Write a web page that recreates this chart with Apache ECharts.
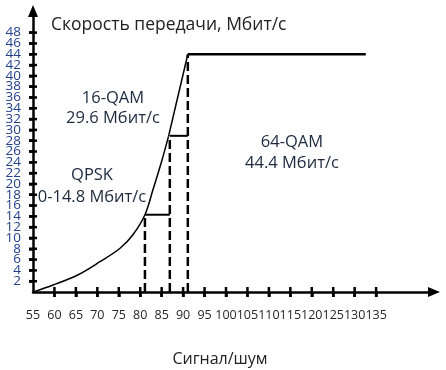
<!DOCTYPE html>
<html>
<head>
<meta charset="utf-8">
<script src="https://cdn.jsdelivr.net/npm/echarts@6/dist/echarts.min.js"></script>
<style>
html,body{margin:0;padding:0;background:#fff;}
#c{width:446px;height:370px;}
</style>
</head>
<body>
<div id="c"></div>
<script>
const xTicks = [55, 60, 65, 70, 75, 80, 85, 90, 95, 100, 105, 110, 115, 120, 125, 130, 135];
const yTicks = [2, 4, 6, 8, 10, 12, 14, 16, 18, 20, 22, 24, 26, 28, 30, 32, 34, 36, 38, 40, 42, 44, 46, 48];

const curveX = [55, 59.7, 65.3, 70.6, 75.3, 78.3, 81.1, 83.0, 85.0, 86.6];
const curveY = [0, 1.3, 3.1, 5.6, 8.1, 10.6, 14.3, 19.0, 24.2, 28.8];
const rampX = [86.6, 91.1];
const rampY = [28.8, 44];
const plateauX = [91.1, 132.6];
const plateauY = [44, 44];
const thresholdX = [81.1, 86.9, 91.1];
const thresholdY = [14.3, 28.9, 44];

const labels = [
  {text: '16-QAM', x: 113, y: 98},
  {text: '29.6 Мбит/с', x: 113, y: 118},
  {text: 'QPSK', x: 92, y: 175},
  {text: '0-14.8 Мбит/с', x: 92, y: 197},
  {text: '64-QAM', x: 292, y: 142},
  {text: '44.4 Мбит/с', x: 292, y: 163}
];

const zip = (xs, ys) => xs.map((v, i) => [v, ys[i]]);

const series = [];
series.push({type: 'line', data: zip(curveX, curveY), smooth: 0.35, showSymbol: false,
  lineStyle: {color: '#000', width: 1.5}});
series.push({type: 'line', data: zip(rampX, rampY), showSymbol: false, lineStyle: {color: '#000', width: 1.5}});
series.push({type: 'line', data: zip(plateauX, plateauY), showSymbol: false, lineStyle: {color: '#000', width: 2.5}});
thresholdX.forEach((tx, i) => {
  series.push({type: 'line', data: [[tx, 0], [tx, thresholdY[i]]], showSymbol: false,
    lineStyle: {color: '#000', width: 2.5, type: [9, 4]}});
  if (i < thresholdX.length - 1) {
    series.push({type: 'line', data: [[tx, thresholdY[i]], [thresholdX[i + 1], thresholdY[i]]], showSymbol: false,
      lineStyle: {color: '#000', width: 2}});
  }
});

const FONT = '"Open Sans", sans-serif';
const chart = echarts.init(document.getElementById('c'), null, {renderer: 'canvas'});
chart.setOption({
  animation: false,
  backgroundColor: '#fff',
  grid: {left: 33, right: 12, top: 11, bottom: 78, containLabel: false},
  xAxis: {
    type: 'value', min: 55, max: 148.5, position: 'bottom',
    splitLine: {show: false},
    axisLine: {show: true, onZero: false, lineStyle: {color: '#000', width: 2.5}, symbol: ['none', 'triangle'], symbolSize: [10, 12]},
    axisTick: {show: true, length: 5, customValues: xTicks.slice(1), lineStyle: {color: '#000', width: 2.5}},
    axisLabel: {customValues: xTicks, showMinLabel: true, showMaxLabel: true, margin: 17, color: '#262626', fontSize: 12.5, fontFamily: FONT}
  },
  yAxis: {
    type: 'value', min: 0, max: 52, position: 'left',
    splitLine: {show: false},
    axisLine: {show: true, onZero: false, lineStyle: {color: '#000', width: 2.5}, symbol: ['none', 'triangle'], symbolSize: [10, 12]},
    axisTick: {show: true, length: 4, customValues: yTicks, lineStyle: {color: '#000', width: 2.5}},
    axisLabel: {show: false}
  },
  title: {text: 'Скорость передачи, Мбит/с', left: 46, top: 11,
    textStyle: {color: '#222', fontSize: 17.5, fontWeight: 'normal', fontFamily: FONT}},
  series: series
});

// inner halves of the ticks and y tick labels, positioned through the axis scales
const graphics = [];
const origin = chart.convertToPixel({gridIndex: 0}, [55, 0]);
xTicks.slice(1).forEach(v => {
  const px = chart.convertToPixel({xAxisIndex: 0}, v);
  graphics.push({type: 'rect', z: 100, shape: {x: px - 1.25, y: origin[1] - 5, width: 2.5, height: 10},
    style: {fill: '#000'}});
});
yTicks.forEach(v => {
  const py = chart.convertToPixel({yAxisIndex: 0}, v);
  graphics.push({type: 'rect', z: 100, shape: {x: origin[0] - 4, y: py - 1.25, width: 8, height: 2.5},
    style: {fill: '#000'}});
  graphics.push({type: 'text', x: origin[0] - 12, y: py,
    style: {text: String(v), fill: '#203f8c', font: '13.5px ' + FONT, align: 'right', verticalAlign: 'middle'}});
});
labels.forEach(l => graphics.push({type: 'text', x: l.x, y: l.y,
  style: {text: l.text, fill: '#1c2a3f', font: '16.5px ' + FONT, align: 'center', verticalAlign: 'middle'}}));
graphics.push({type: 'text', x: 220, y: 359,
  style: {text: 'Сигнал/шум', fill: '#222', font: '16px ' + FONT, align: 'center', verticalAlign: 'middle'}});
chart.setOption({graphic: graphics});
</script>
</body>
</html>
